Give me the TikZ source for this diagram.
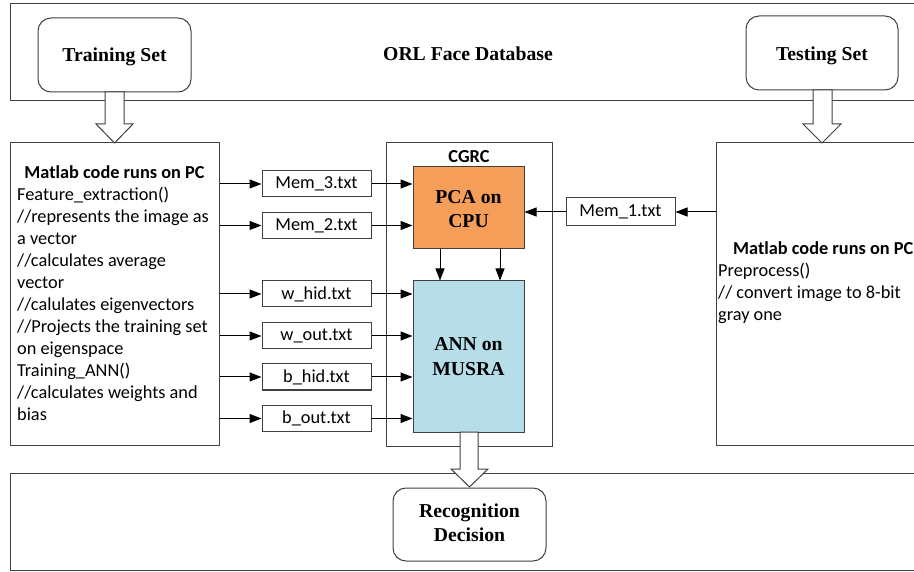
\documentclass[tikz,border=0pt]{standalone}
\usepackage{fontspec}
\usetikzlibrary{arrows.meta}
\newfontfamily\calfont{Carlito}
\newfontfamily\tnrfont{Liberation Serif}
\definecolor{pcaorange}{HTML}{F59E5A}
\definecolor{annblue}{HTML}{B7DEE8}
\definecolor{edge}{HTML}{404040}
\begin{document}
\begin{tikzpicture}[x=1pt,y=-1pt,
  box/.style={draw=edge, line width=1pt, inner sep=0pt, anchor=center},
  rbox/.style={box, rounded corners=13pt, fill=white},
  ctxt/.style={font=\calfont\fontsize{18.3}{22}\selectfont, inner sep=0pt},
  btxt/.style={font=\calfont\bfseries\fontsize{18.3}{22}\selectfont, inner sep=0pt},
  ttxt/.style={font=\tnrfont\bfseries\fontsize{19.7}{24}\selectfont, inner sep=0pt, anchor=base},
  filebox/.style={box, minimum width=109pt, minimum height=26pt, fill=white, font=\calfont\fontsize{18.3}{22}\selectfont},
  arr/.style={draw=black, line width=1pt, -{Triangle[length=12pt,width=9pt]}},
  hollow/.style={draw=edge, line width=1pt, fill=white, line join=miter}
]
\clip (0,0) rectangle (914,572);
\fill[white] (0,0) rectangle (914,572);

% outer bands
\draw[draw=edge, line width=1pt] (10,4) rectangle (930,101);
\draw[draw=edge, line width=1pt] (10,473) rectangle (930,570);
\node[ttxt] (orl) at (468,61) {ORL Face Database};

% big boxes
\node[box, minimum width=209pt, minimum height=302pt] (left) at (114.5,294) {};
\node[box, minimum width=166pt, minimum height=303pt] (cgrc) at (469,294.5) {};
\node[box, minimum width=214pt, minimum height=302pt] (right) at (823,294) {};

% training / testing sets
\node[rbox, minimum width=153pt, minimum height=74pt] (ts) at (114.5,55) {};
\node[ttxt] (tstxt) at (114.5,62) {Training Set};
\node[rbox, minimum width=152pt, minimum height=74pt] (te) at (822,53) {};
\node[ttxt] (tetxt) at (822,61) {Testing Set};

% hollow arrows from sets
\draw[hollow] (105,92) -- (105,124) -- (96,124) -- (114.5,143) -- (133,124) -- (124,124) -- (124,92) -- cycle;
\draw[hollow] (813,90) -- (813,124) -- (803,124) -- (822,143) -- (841,124) -- (832,124) -- (832,90) -- cycle;

% left text
\node[btxt, anchor=base] (lhead) at (114.5,179) {Matlab code runs on PC};
\foreach \t [count=\i] in {Feature\_extraction(), //represents the image as, a vector, //calculates average, vector, //calulates eigenvectors, //Projects the training set, on eigenspace, Training\_ANN(), //calculates weights and, bias}
  \node[ctxt, anchor=base west] (ltx\i) at (17,179+21.95*\i) {\t};

% right text
\node[btxt, anchor=base west] (rhead) at (733,255) {Matlab code runs on PC};
\node[ctxt, anchor=base west] (rtx1) at (718,277) {Preprocess()};
\node[ctxt, anchor=base west] (rtx2) at (718,299) {// convert image to 8-bit};
\node[ctxt, anchor=base west] (rtx3) at (718,321) {gray one};

% CGRC content
\node[btxt, anchor=base] (cgrct) at (469,162.7) {CGRC};
\node[box, fill=pcaorange, minimum width=111pt, minimum height=82pt] (pca) at (468.5,208) {};
\node[ttxt] (pca1) at (468.5,203.5) {PCA on};
\node[ttxt] (pca2) at (468.5,227.3) {CPU};
\node[box, fill=annblue, minimum width=111pt, minimum height=151pt] (ann) at (468.5,356.5) {};
\node[ttxt] (ann1) at (468.5,350.7) {ANN on};
\node[ttxt] (ann2) at (468.5,375) {MUSRA};

\draw[arr] (pca.south -| 440,0) -- (ann.north -| 440,0);
\draw[arr] (pca.south -| 500,0) -- (ann.north -| 500,0);

% file boxes
\node[filebox] (m3) at (316.5,184) {Mem\_3.txt};
\node[filebox] (m2) at (316.5,225.5) {Mem\_2.txt};
\node[filebox] (wh) at (316.5,294) {w\_hid.txt};
\node[filebox] (wo) at (316.5,336) {w\_out.txt};
\node[filebox] (bh) at (316.5,377) {b\_hid.txt};
\node[filebox] (bo) at (316.5,418.5) {b\_out.txt};
\node[filebox, minimum height=28pt] (m1) at (620.5,212) {Mem\_1.txt};

\foreach \f in {m3,m2}{
  \draw[arr] (left.east |- \f.west) -- (\f.west);
  \draw[arr] (\f.east) -- (pca.west |- \f.east);
}
\foreach \f in {wh,wo,bh,bo}{
  \draw[arr] (left.east |- \f.west) -- (\f.west);
  \draw[arr] (\f.east) -- (ann.west |- \f.east);
}
\draw[arr] (right.west |- m1.east) -- (m1.east);
\draw[arr] (m1.west) -- (pca.east |- m1.west);

% recognition decision
\node[rbox, minimum width=153pt, minimum height=73pt] (rec) at (469.5,524.5) {};
\node[ttxt] (rec1) at (469.5,517.7) {Recognition};
\node[ttxt] (rec2) at (469.5,541.7) {Decision};

% hollow arrow to decision
\draw[hollow] (460,432) -- (460,469) -- (451,469) -- (469.5,487) -- (488,469) -- (478,469) -- (478,432) -- cycle;
\end{tikzpicture}
\end{document}
